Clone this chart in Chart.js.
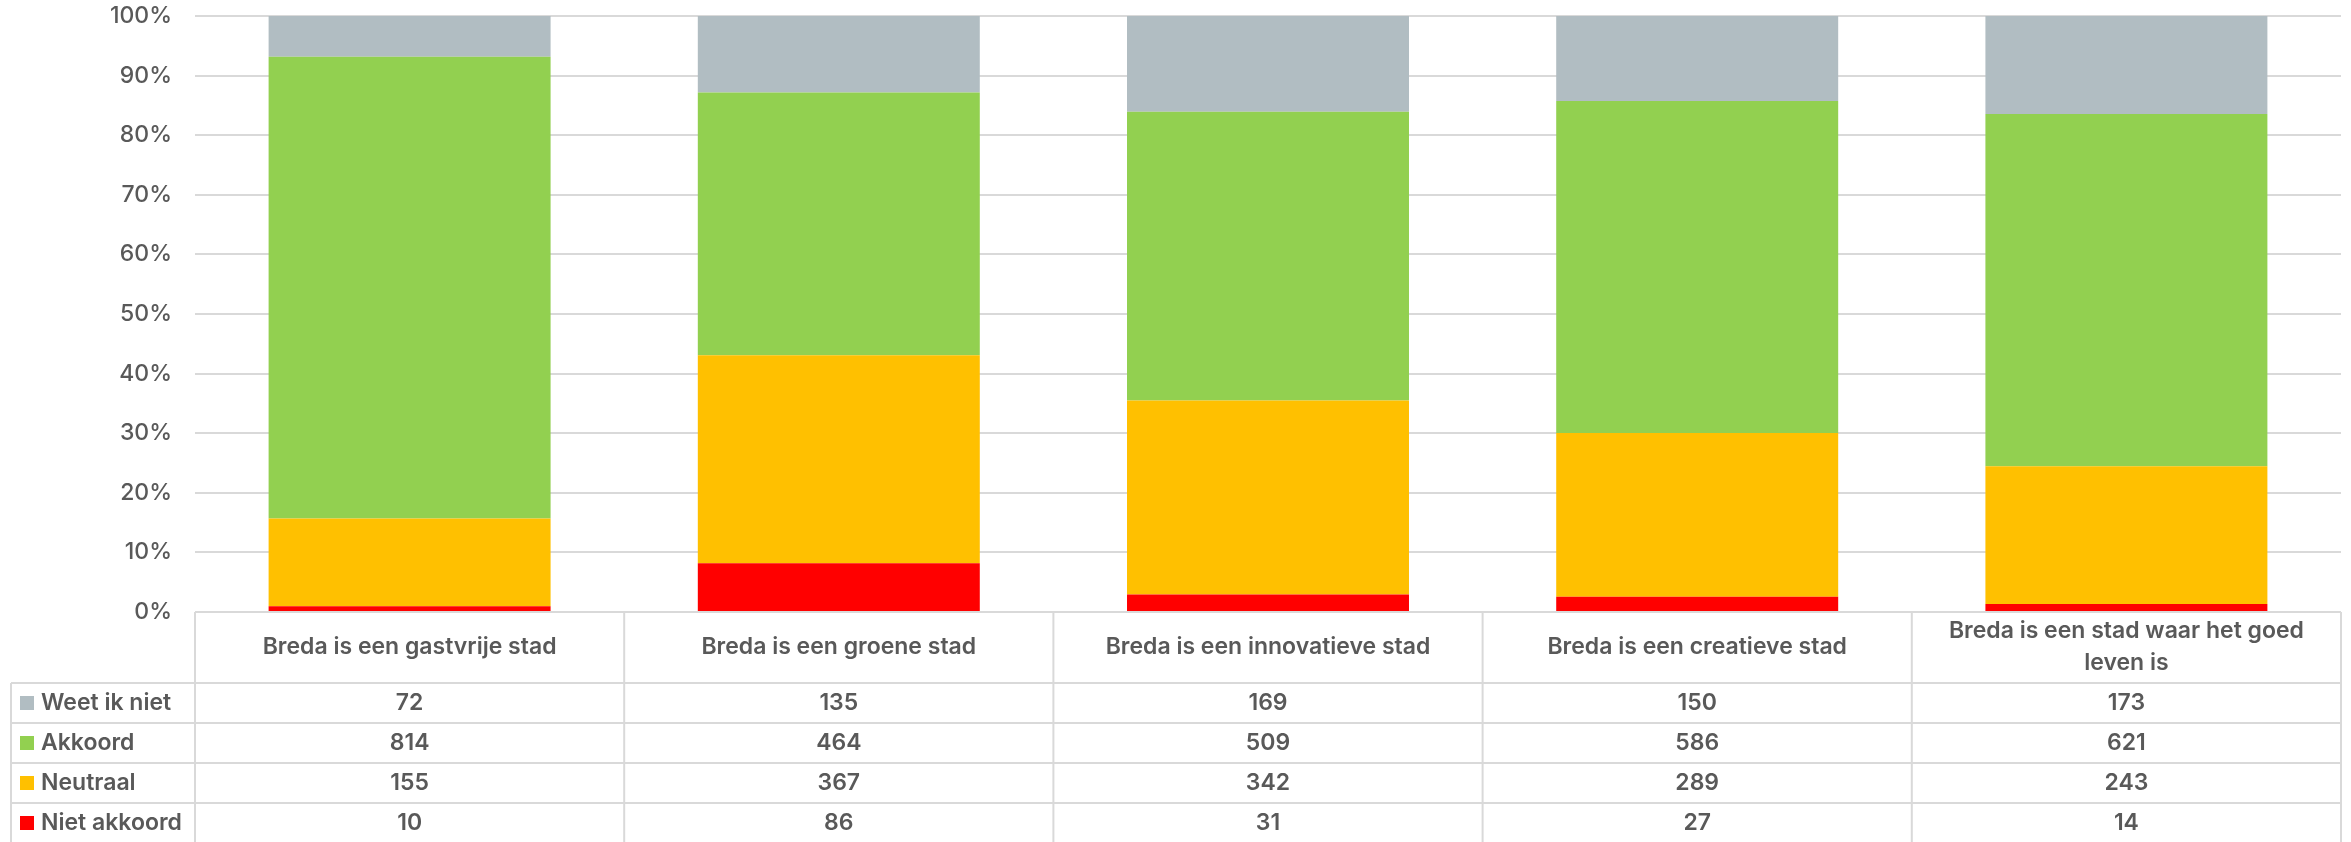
<!DOCTYPE html>
<html>
<head>
<meta charset="utf-8">
<script src="https://cdn.jsdelivr.net/npm/chart.js@4"></script>
<style>
  html, body { margin: 0; padding: 0; background: #fff; }
  #wrap { width: 2351px; height: 842px; }
</style>
</head>
<body>
<div id="wrap"><canvas id="chart" width="2351" height="842"></canvas></div>
<script>
// categories (statements) and answer counts per category
const categories = [
    "Breda is een gastvrije stad",
    "Breda is een groene stad",
    "Breda is een innovatieve stad",
    "Breda is een creatieve stad",
    "Breda is een stad waar het goed leven is"
];
const weetIkNiet  = [72, 135, 169, 150, 173];
const akkoord     = [814, 464, 509, 586, 621];
const neutraal    = [155, 367, 342, 289, 243];
const nietAkkoord = [10, 86, 31, 27, 14];
const yTicks = [0, 10, 20, 30, 40, 50, 60, 70, 80, 90, 100];

const textColor = "#595959";
const lineColor = "#d9d9d9";
const fontFamily = "Inter, 'Noto Sans', sans-serif";

// series in stacking order (bottom first); table shows them top to bottom reversed
const series = [
    { label: "Niet akkoord", counts: nietAkkoord, color: "#ff0000" },
    { label: "Neutraal",     counts: neutraal,    color: "#ffc000" },
    { label: "Akkoord",      counts: akkoord,     color: "#92d050" },
    { label: "Weet ik niet", counts: weetIkNiet,  color: "#b1bdc2" }
];

const totals = categories.map((c, i) => series.reduce((s, d) => s + d.counts[i], 0));

// draws the data table under the plot, lined up with the x scale
const dataTable = {
    id: "dataTable",
    afterDraw(chart) {
        const ctx = chart.ctx;
        const area = chart.chartArea;
        const colW = (area.right - area.left) / categories.length;
        const tableLeft = 11;
        const headTop = area.bottom;
        const headBottom = headTop + 71;
        const rowH = 40;
        const rows = series.slice().reverse();
        const bottom = headBottom + rowH * rows.length;

        ctx.save();
        ctx.strokeStyle = lineColor;
        ctx.lineWidth = 2;
        ctx.beginPath();
        ctx.moveTo(area.left, headTop); ctx.lineTo(area.right, headTop);
        for (let r = 0; r <= rows.length; r++) {
            const y = headBottom + r * rowH;
            ctx.moveTo(tableLeft, y); ctx.lineTo(area.right, y);
        }
        for (let c = 0; c <= categories.length; c++) {
            const x = area.left + c * colW;
            ctx.moveTo(x, headTop); ctx.lineTo(x, bottom);
        }
        ctx.moveTo(tableLeft, headBottom); ctx.lineTo(tableLeft, bottom);
        ctx.stroke();

        ctx.fillStyle = textColor;
        ctx.font = "600 23px " + fontFamily;
        ctx.textAlign = "center";
        ctx.textBaseline = "middle";

        // header labels, wrapped to the column width
        categories.forEach((label, i) => {
            const cx = area.left + (i + 0.5) * colW;
            const words = label.split(" ");
            const lines = [];
            let line = "";
            words.forEach(w => {
                const test = line ? line + " " + w : w;
                if (ctx.measureText(test).width > colW - 30 && line) {
                    lines.push(line);
                    line = w;
                } else line = test;
            });
            lines.push(line);
            const lh = 32;
            const y0 = (headTop + headBottom) / 2 - (lines.length - 1) * lh / 2;
            lines.forEach((l, k) => ctx.fillText(l, cx, y0 + k * lh));
        });

        // value rows with legend keys
        rows.forEach((s, r) => {
            const cy = headBottom + r * rowH + rowH / 2;
            ctx.fillStyle = s.color;
            ctx.fillRect(20, cy - 7, 14, 14);
            ctx.fillStyle = textColor;
            ctx.textAlign = "left";
            ctx.fillText(s.label, 41, cy);
            ctx.textAlign = "center";
            s.counts.forEach((v, i) => {
                ctx.fillText(String(v), area.left + (i + 0.5) * colW, cy);
            });
        });
        ctx.restore();
    }
};

new Chart("chart", {
    type: "bar",
    data: {
        labels: categories,
        datasets: series.map(s => ({
            label: s.label,
            data: s.counts.map((v, i) => v / totals[i] * 100),
            backgroundColor: s.color,
            borderWidth: 0,
            categoryPercentage: 1,
            barPercentage: 0.657
        }))
    },
    options: {
        responsive: false,
        animation: false,
        devicePixelRatio: 1,
        layout: { padding: { left: 0, right: 10, top: 16, bottom: 230 } },
        scales: {
            x: {
                stacked: true,
                display: false
            },
            y: {
                stacked: true,
                min: 0,
                max: 100,
                afterBuildTicks: scale => { scale.ticks = yTicks.map(v => ({ value: v })); },
                afterFit: scale => {
                    scale.width = 195;
                    scale.paddingTop = 0;
                    scale.paddingBottom = 0;
                },
                border: { display: false },
                grid: { color: lineColor, lineWidth: 2, drawTicks: false },
                ticks: {
                    padding: 23,
                    color: textColor,
                    font: { family: fontFamily, size: 23, weight: "500" },
                    callback: v => v + "%"
                }
            }
        },
        plugins: {
            legend: { display: false },
            tooltip: { enabled: false }
        }
    },
    plugins: [dataTable]
});
</script>
</body>
</html>
